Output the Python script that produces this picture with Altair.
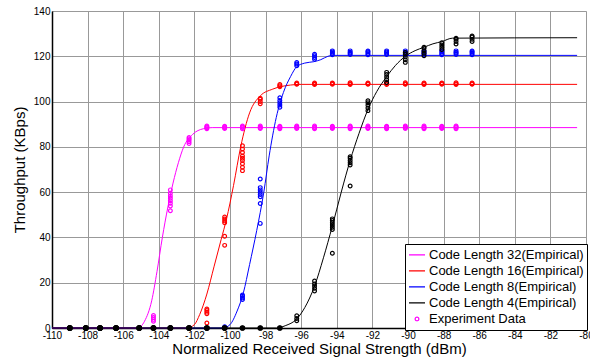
import altair as alt
import pandas as pd

# ---------------- data ----------------
names = ["Code Length 32(Empirical)", "Code Length 16(Empirical)",
         "Code Length 8(Empirical)", "Code Length 4(Empirical)", "Experiment Data"]
colors = ["#FF00FF", "#FF0000", "#0000FF", "#000000", "#FF00FF"]
legend_shapes = ["stroke", "stroke", "stroke", "stroke", "circle"]
legend_sizes = [256, 256, 256, 256, 14]

x_ticks = [-110, -108, -106, -104, -102, -100, -98, -96, -94, -92, -90, -88, -86, -84, -82, -80]
y_ticks = [0, 20, 40, 60, 80, 100, 120, 140]

# x positions of the measurement clusters (dBm)
exp_x = [-109.0, -108.1, -107.3, -106.4, -105.1, -104.3, -103.35, -102.3, -101.3, -100.3,
         -99.3, -98.3, -97.2, -96.25, -95.25, -94.25, -93.25, -92.25, -91.2, -90.15,
         -89.1, -88.1, -87.3, -86.4]

# measured throughput per cluster (KBps), one list per x position
exp_cl32 = [[0], [0], [0], [0], [0],
            [3, 3.8, 4.6, 5.5],
            [51.8, 53.9, 55.1, 56.2, 57.3, 58.3, 59.5, 61],
            [81.5, 82.3, 83, 83.6, 84.1],
            [88, 88.4, 88.8, 89.2],
            [88.1, 88.4, 88.8, 89.1],
            [88, 88.5, 88.8, 89.2],
            [88.1, 88.4, 88.7, 89.2],
            [88, 88.4, 88.8, 89.1],
            [88.1, 88.5, 88.8, 89.2],
            [88, 88.4, 88.7, 89.2],
            [88.1, 88.4, 88.8, 89.1],
            [88, 88.5, 88.8, 89.2],
            [88.1, 88.4, 88.7, 89.2],
            [88, 88.4, 88.8, 89.1],
            [88.1, 88.5, 88.8, 89.2],
            [88, 88.4, 88.7, 89.2],
            [88.1, 88.4, 88.8, 89.1],
            [88, 88.5, 88.8, 89.2]]

exp_cl16 = [[0], [0], [0], [0], [0], [0], [0], [0],
            [2.2, 6.3, 7, 7.7, 8.4],
            [36.5, 40.5, 46.5, 47.3, 48.1, 49],
            [69.5, 71, 72.5, 74, 75, 76, 77.5, 79, 80.5],
            [99, 100, 101, 101.5],
            [106.5, 107, 107.5],
            [107.6, 107.9, 108.2],
            [107.5, 107.9, 108.2],
            [107.6, 108, 108.2],
            [107.5, 107.9, 108.3],
            [107.6, 107.9, 108.2],
            [107.5, 108, 108.2],
            [107.6, 107.9, 108.3],
            [107.5, 107.9, 108.2],
            [107.6, 108, 108.2],
            [107.5, 107.9, 108.3],
            [107.6, 107.9, 108.2]]

exp_cl8 = [[0], [0], [0], [0], [0], [0], [0], [0], [0],
           [0, 0.6],
           [12.6, 13.3, 14, 14.6],
           [46.2, 55, 58, 59, 60, 61, 62, 65.8],
           [97.5, 98.5, 99.5, 100.5, 101.7],
           [115.8, 116.6, 117.3],
           [118.7, 119.5, 120.2, 120.9],
           [120.7, 121.3, 121.9, 122.4],
           [120.8, 121.3, 121.8, 122.4],
           [120.7, 121.2, 121.9, 122.3],
           [120.8, 121.4, 121.9, 122.4],
           [120.7, 121.3, 121.8, 122.4],
           [120.8, 121.3, 121.9, 122.3],
           [120.7, 121.2, 121.9, 122.4],
           [120.8, 121.4, 121.8, 122.4],
           [120.7, 121.3, 121.9, 122.3]]

exp_cl4 = [[0], [0], [0], [0], [0], [0], [0], [0], [0], [0], [0], [0], [0],
           [3.2, 4.2, 5.4],
           [16.3, 17.5, 18.5, 19.5, 20.8],
           [33, 43.5, 44.5, 45.5, 46.5, 47.5, 48.2],
           [62.7, 72, 73, 74, 75, 75.6],
           [96, 97.2, 98.4, 99.5, 100.4],
           [108.4, 109.6, 110.8, 112, 112.9],
           [117.3, 118.5, 119.7, 120.9, 121.7],
           [120.2, 121.3, 122.4, 123.5, 124],
           [123, 124, 125, 126],
           [125.4, 126.5, 127.5, 128],
           [126.5, 127.5, 128.5, 129]]

# fitted (empirical) curves
c32_x = [-110, -105.2, -104.8, -104.4, -104.1, -103.8, -103.5, -103.2, -102.9, -102.6, -102.1, -101.5, -101.0, -80.5]
c32_y = [0, 0, 3, 12, 25, 40, 53, 64, 73, 80, 85.5, 88, 88.5, 88.5]

c16_x = [-110, -102.4, -102.0, -101.7, -101.3, -100.9, -100.5, -100.2, -99.8, -99.4, -98.9, -98.3, -97.6, -96.6, -96.0, -80.5]
c16_y = [0, 0, 1.5, 6, 15, 27, 39, 48, 63, 80, 95, 102.5, 105.5, 107.3, 107.6, 107.6]

c8_x = [-110, -100.4, -100.0, -99.6, -99.25, -98.9, -98.5, -98.1, -97.8, -97.4, -97.0, -96.6, -96.25, -95.8, -95.3, -94.9, -94.5, -94.2, -80.5]
c8_y = [0, 0, 1.5, 7.5, 15.5, 28, 43, 60, 76, 93, 104, 111, 115.4, 117, 117.6, 118.5, 120, 120.4, 120.4]

c4_x = [-110, -97.4, -96.9, -96.25, -95.8, -95.25, -94.75, -94.25, -93.75, -93.25, -92.75, -92.25, -91.75, -91.2, -90.7, -90.15, -89.6, -89.1, -88.6, -88.1, -87.5, -80.5]
c4_y = [0, 0, 1, 4, 9, 18.5, 31, 45, 60, 74, 86, 96.5, 104.5, 111, 116, 120, 122.5, 124, 125.5, 126.5, 128, 128.2]

# ---------------- tables ----------------
curves = [(names[0], c32_x, c32_y), (names[1], c16_x, c16_y),
          (names[2], c8_x, c8_y), (names[3], c4_x, c4_y)]
exps = [(names[0], exp_cl32), (names[1], exp_cl16), (names[2], exp_cl8), (names[3], exp_cl4)]

exp_rows = []
for name, clusters in exps:
    for xv, ys in zip(exp_x, clusters):
        for yv in ys:
            exp_rows.append({"x": xv, "y": yv, "series": name})
exp_df = pd.DataFrame(exp_rows)

FONT = "Liberation Sans"
color_scale = alt.Scale(domain=names, range=colors)
xs = alt.Scale(domain=[-110, -80], nice=False, zero=False)
ys_ = alt.Scale(domain=[0, 140], nice=False)

x_enc = alt.X("x:Q", scale=xs, axis=alt.Axis(
    values=x_ticks, title="Normalized Received Signal Strength (dBm)", grid=True, ticks=False,
    labelFontSize=10, titleFontSize=15, titleFontWeight="normal", labelPadding=2, titlePadding=1,
    labelColor="black", titleColor="black", domainColor="black", domainWidth=1.5,
    gridColor="#999999", gridWidth=1, labelFont=FONT, titleFont=FONT, labelFlush=False,
    labelExpr="toString(datum.value)"))
y_enc = alt.Y("y:Q", scale=ys_, axis=alt.Axis(
    values=y_ticks, title="Throughput (KBps)", grid=True, ticks=False,
    labelFontSize=10, titleFontSize=15, titleFontWeight="normal", labelPadding=2, titlePadding=6,
    labelColor="black", titleColor="black", domainColor="black", domainWidth=1.5,
    gridColor="#999999", gridWidth=1, labelFont=FONT, titleFont=FONT))

leg_args = dict(title=None, orient="none", legendX=353, legendY=233, padding=3,
                strokeColor="black", fillColor="white", labelFontSize=13, labelFont=FONT,
                labelColor="black", rowPadding=0, labelOffset=3, symbolStrokeWidth=1.2,
                labelLimit=300, clipHeight=15.8)

def color_enc():
    return alt.Color("series:N", scale=color_scale, legend=alt.Legend(**leg_args))

layers = []
for name, cx, cy in curves:
    df = pd.DataFrame({"x": cx, "y": cy, "series": name})
    layers.append(
        alt.Chart(df).mark_line(strokeWidth=1, interpolate="monotone").encode(
            x=x_enc, y=y_enc, color=color_enc()))

points = alt.Chart(exp_df).mark_point(filled=False, size=14, strokeWidth=1.2, opacity=1).encode(
    x=x_enc, y=y_enc, color=color_enc())
layers.append(points)

zeros = alt.Chart(exp_df).transform_filter("datum.y == 0").mark_circle(
    size=32, color="black", opacity=1).encode(x=x_enc, y=y_enc)
layers.append(zeros)

leg_df = pd.DataFrame({"x": [-200, -200, -200, -200, -200], "y": [-50, -50, -50, -50, -50], "series": names})
legend_layer = alt.Chart(leg_df).mark_point(filled=False, clip=True, opacity=1, strokeWidth=1.2).encode(
    x=x_enc, y=y_enc,
    color=color_enc(),
    shape=alt.Shape("series:N", scale=alt.Scale(domain=names, range=legend_shapes), legend=alt.Legend(**leg_args)),
    size=alt.Size("series:N", scale=alt.Scale(type="ordinal", domain=names, range=legend_sizes), legend=alt.Legend(**leg_args)),
)
layers.append(legend_layer)

chart = alt.layer(*layers).properties(
    width=534, height=317,
    padding={"left": 52, "top": 11, "right": 4, "bottom": 32},
    autosize="none",
).configure_view(stroke="black", strokeWidth=1.5).configure(font=FONT)

chart.save("out.html", embed_options={"renderer": "svg", "actions": False})
